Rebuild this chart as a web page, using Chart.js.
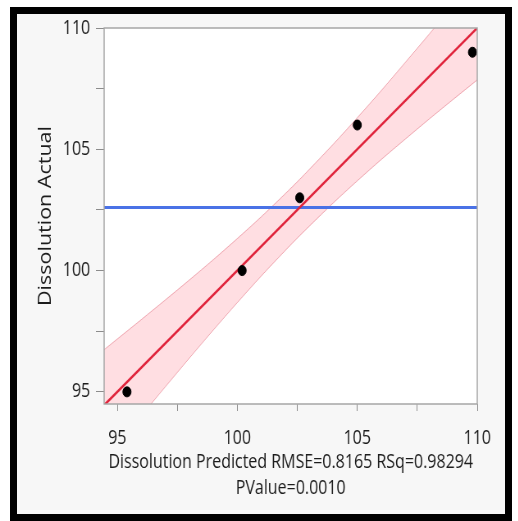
<!DOCTYPE html>
<html><head><meta charset="utf-8">
<script src="https://cdn.jsdelivr.net/npm/chart.js@4.4.0/dist/chart.umd.min.js"></script>
<style>
html,body{margin:0;padding:0;background:#fff;width:518px;height:521px;overflow:hidden;}
#frame{position:absolute;left:10px;top:7px;width:488px;height:500px;border:7px solid #000;background:#f7f7f7;}
#wrap{position:absolute;left:0;top:0;width:632px;height:521px;transform:scaleX(0.82);transform-origin:0 0;}
canvas{display:block;}
</style></head><body>
<div id="frame"></div>
<div id="wrap"><canvas id="c" width="632" height="521"></canvas></div>
<script>
// ---- data ----
const predicted = [95.4, 100.2, 102.6, 105.0, 109.8];
const actual = [95, 100, 103, 106, 109];
const meanX = [94, 111];
const meanY = [102.6, 102.6];
const fitX = [94, 111];
const fitY = [94, 111];
const bandX = [94, 95, 96, 97, 98, 99, 100, 101, 102, 102.6, 103, 104, 105, 106, 107, 108, 109, 110, 111];
const bandLower = [91.62, 92.82, 94.02, 95.21, 96.39, 97.55, 98.68, 99.78, 100.83, 101.44, 101.83, 102.79, 103.70, 104.58, 105.42, 106.25, 107.06, 107.86, 108.66];
const bandUpper = [96.38, 97.18, 97.98, 98.79, 99.61, 100.45, 101.32, 102.22, 103.17, 103.76, 104.17, 105.21, 106.30, 107.42, 108.58, 109.75, 110.94, 112.14, 113.34];
const xTicks = [95, 97.5, 100, 102.5, 105, 107.5, 110];
const yTicks = [95, 97.5, 100, 102.5, 105, 107.5, 110];
const xTitle = ['Dissolution Predicted RMSE=0.8165 RSq=0.98294', 'PValue=0.0010'];
const yTitle = 'Dissolution Actual';

const pts = (xs, ys) => xs.map((x, i) => ({x: x, y: ys[i]}));

const plotFrame = {
  id: 'plotFrame',
  beforeDraw(chart) {
    const {ctx, chartArea: a} = chart;
    ctx.save();
    ctx.fillStyle = '#ffffff';
    ctx.fillRect(a.left, a.top, a.width, a.height);
    ctx.restore();
  },
  afterDraw(chart) {
    const {ctx, chartArea: a} = chart;
    ctx.save();
    ctx.strokeStyle = '#a6a6a6';
    ctx.lineWidth = 1.5;
    ctx.strokeRect(a.left, a.top, a.width, a.height);
    ctx.restore();
  }
};

const tickFont = {family: 'Open Sans', size: 19.5};
const titleFont = {family: 'Open Sans', size: 19.5, lineHeight: 1.33};

new Chart(document.getElementById('c'), {
  type: 'scatter',
  data: {
    datasets: [
      {type: 'line', data: pts(bandX, bandUpper), borderColor: 'rgba(225,110,125,0.55)', borderWidth: 1,
       backgroundColor: 'rgba(255,80,100,0.19)', fill: '+1', pointRadius: 0, tension: 0.3, clip: 0, order: 5},
      {type: 'line', data: pts(bandX, bandLower), borderColor: 'rgba(225,110,125,0.55)', borderWidth: 1,
       fill: false, pointRadius: 0, tension: 0.3, clip: 0, order: 4},
      {type: 'line', data: pts(meanX, meanY), borderColor: '#4a72e6', borderWidth: 3,
       fill: false, pointRadius: 0, clip: 0, order: 3},
      {type: 'line', data: pts(fitX, fitY), borderColor: '#e0243c', borderWidth: 2.5,
       fill: false, pointRadius: 0, clip: 0, order: 2},
      {data: pts(predicted, actual), backgroundColor: '#000', borderColor: '#000', pointRadius: 5, order: 1}
    ]
  },
  options: {
    responsive: false,
    animation: false,
    devicePixelRatio: 1,
    layout: {padding: {top: 28, right: 50, left: 0, bottom: 0}},
    plugins: {legend: {display: false}, tooltip: {enabled: false}},
    scales: {
      x: {
        type: 'linear', min: 94.45, max: 110,
        afterBuildTicks: s => { s.ticks = xTicks.map(v => ({value: v})); },
        afterFit: s => { s.height = 117; },
        ticks: {font: tickFont, color: '#1c1c1c', padding: 16, maxRotation: 0, autoSkip: false,
                callback: v => (v % 5 === 0 ? String(v) : '')},
        grid: {drawOnChartArea: false, drawTicks: true, tickLength: 7, color: '#8c8c8c'},
        border: {display: false},
        title: {display: true, text: xTitle, font: titleFont, color: '#1c1c1c', padding: {top: 0, bottom: 20}}
      },
      y: {
        type: 'linear', min: 94.5, max: 110,
        afterBuildTicks: s => { s.ticks = yTicks.map(v => ({value: v})); },
        afterFit: s => { s.width = 127; },
        ticks: {font: tickFont, color: '#1c1c1c', padding: 7, autoSkip: false,
                callback: v => (v % 5 === 0 ? String(v) : '')},
        grid: {drawOnChartArea: false, drawTicks: true, tickLength: 10, color: '#8c8c8c'},
        border: {display: false},
        title: {display: true, text: yTitle, font: {family: 'Open Sans', size: 21.5}, color: '#1c1c1c', padding: {top: 43, bottom: 0}}
      }
    }
  },
  plugins: [plotFrame]
});
</script></body></html>
